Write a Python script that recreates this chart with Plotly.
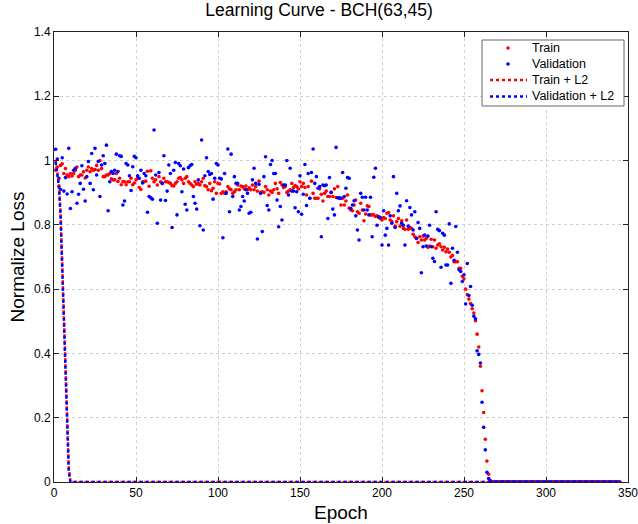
import plotly.graph_objects as go

# ---------------- data ----------------
train_loss = [
    # epochs 1-58
    0.97, 0.98, 0.92, 0.985, 0.99, 0.96, 0.975, 0.955, 0.95, 0.96,
    0.952, 0.96, 0.97, 0.98, 0.95, 0.955, 0.955, 0.965, 0.946, 0.97,
    0.98, 0.965, 0.975, 0.97, 0.972, 0.985, 0.97, 1.0, 0.975, 0.95,
    0.95, 0.955, 0.955, 0.96, 0.943, 0.94, 0.94, 0.96, 0.935, 0.945,
    0.925, 0.934, 0.934, 0.925, 0.934, 0.934, 0.945, 0.925, 0.93, 0.94,
    0.945, 0.916, 0.91, 0.934, 0.934, 0.936, 0.967, 0.92,
    # epochs 59-119
    0.968, 0.945, 0.934, 0.94, 0.924, 0.95, 0.934, 0.929, 0.945, 0.934,
    0.934, 0.932, 0.929, 0.922, 0.921, 0.929, 0.934, 0.945, 0.947, 0.94,
    0.929, 0.945, 0.95, 0.934, 0.929, 0.924, 0.919, 0.934, 0.926, 0.929,
    0.924, 0.934, 0.945, 0.922, 0.919, 0.909, 0.929, 0.906, 0.914, 0.934,
    0.898, 0.929, 0.927, 0.898, 0.903, 0.898, 0.903, 0.919, 0.912, 0.909,
    0.898, 0.903, 0.909, 0.924, 0.909, 0.921, 0.919, 0.912, 0.921, 0.909,
    0.915,
    # epochs 120-180
    0.909, 0.924, 0.909, 0.919, 0.905, 0.936, 0.901, 0.903, 0.901, 0.919,
    0.909, 0.893, 0.905, 0.901, 0.909, 0.929, 0.912, 0.898, 0.932, 0.924,
    0.916, 0.919, 0.901, 0.905, 0.909, 0.929, 0.916, 0.922, 0.919, 0.912,
    0.934, 0.919, 0.929, 0.916, 0.893, 0.919, 0.883, 0.936, 0.898, 0.883,
    0.883, 0.883, 0.912, 0.895, 0.874, 0.898, 0.905, 0.888, 0.888, 0.901,
    0.888, 0.912, 0.885, 0.919, 0.885, 0.862, 0.883, 0.862, 0.874, 0.893,
    0.852,
    # epochs 181-239
    0.846, 0.844, 0.862, 0.877, 0.841, 0.836, 0.867, 0.846, 0.813, 0.834,
    0.859, 0.857, 0.831, 0.831, 0.831, 0.826, 0.828, 0.823, 0.820, 0.815,
    0.823, 0.820, 0.836, 0.838, 0.815, 0.810, 0.828, 0.796, 0.810, 0.820,
    0.796, 0.813, 0.789, 0.786, 0.815, 0.786, 0.792, 0.789, 0.771, 0.763,
    0.758, 0.745, 0.763, 0.753, 0.765, 0.753, 0.758, 0.730, 0.734, 0.755,
    0.732, 0.753, 0.727, 0.737, 0.741, 0.732, 0.722, 0.730, 0.716,
    # epochs 240-266
    0.725, 0.715, 0.700, 0.705, 0.685, 0.685, 0.685, 0.665, 0.665, 0.640,
    0.632, 0.600, 0.583, 0.569, 0.555, 0.539, 0.526, 0.502, 0.460, 0.420,
    0.360, 0.284, 0.216, 0.133, 0.065, 0.024, 0.005,
]

val_loss = [
    # epochs 1-58
    1.035, 1.005, 0.945, 0.91, 1.009, 0.905, 0.947, 0.896, 1.038, 0.851,
    0.903, 0.97, 0.976, 0.867, 0.895, 0.929, 0.984, 0.911, 0.874, 0.95,
    0.997, 0.929, 1.022, 0.909, 1.038, 0.955, 0.997, 0.888, 0.986, 1.015,
    0.991, 1.048, 0.844, 0.934, 0.966, 0.96, 0.97, 1.02, 0.966, 1.015,
    1.013, 0.862, 0.874, 0.991, 0.986, 0.953, 0.907, 0.981, 1.013, 1.009,
    0.953, 0.945, 0.97, 0.93, 0.96, 0.953, 0.839, 0.888,
    # epochs 59-119
    0.884, 0.88, 1.095, 0.955, 0.805, 0.963, 0.877, 0.929, 1.015, 0.876,
    0.905, 0.986, 0.96, 0.792, 0.97, 0.994, 0.831, 0.991, 0.984, 0.903,
    0.974, 0.864, 0.846, 0.978, 0.984, 0.988, 0.888, 0.867, 0.849, 0.94,
    0.797, 1.064, 0.784, 0.953, 1.009, 0.966, 0.957, 0.96, 0.88, 0.945,
    0.991, 0.986, 0.945, 0.943, 0.76, 0.96, 0.898, 1.036, 0.841, 1.02,
    0.888, 0.95, 0.929, 0.929, 0.846, 0.857, 0.888, 0.874, 0.909, 0.898,
    0.836,
    # epochs 120-179
    0.839, 0.94, 0.976, 0.929, 0.756, 0.926, 0.898, 0.779, 0.95, 1.012,
    0.86, 0.846, 0.988, 1.0, 0.96, 0.96, 0.877, 0.794, 0.857, 0.815,
    0.924, 0.924, 1.0, 0.893, 0.976, 0.905, 0.905, 0.853, 0.903, 0.841,
    0.953, 0.833, 0.895, 0.988, 0.86, 0.96, 0.883, 0.963, 1.036, 0.929,
    0.95, 0.914, 0.919, 0.763, 0.924, 0.922, 0.924, 0.82, 0.947, 0.901,
    0.849, 0.831, 1.041, 0.884, 0.883, 0.883, 0.963, 0.888, 0.914, 0.947,
    # epochs 180-239
    0.945, 0.851, 0.862, 0.875, 0.828, 0.784, 0.753, 0.898, 0.886, 0.846,
    0.886, 0.846, 0.831, 0.886, 0.763, 0.948, 0.976, 0.799, 0.825, 0.823,
    0.737, 0.844, 0.768, 0.789, 0.737, 0.828, 0.805, 0.95, 0.792, 0.898,
    0.844, 0.859, 0.805, 0.799, 0.737, 0.875, 0.796, 0.854, 0.831, 0.784,
    0.841, 0.758, 0.807, 0.789, 0.651, 0.732, 0.768, 0.734, 0.765, 0.799,
    0.732, 0.696, 0.686, 0.841, 0.786, 0.782, 0.668, 0.774, 0.768, 0.675,
    # epochs 240-266
    0.675, 0.803, 0.618, 0.727, 0.69, 0.795, 0.715, 0.66, 0.655, 0.624,
    0.645, 0.554, 0.68, 0.58, 0.608, 0.55, 0.516, 0.508, 0.408, 0.397,
    0.37, 0.248, 0.17, 0.10, 0.03, 0.011, 0.003,
]

# after epoch 266 both curves sit at zero until epoch 345
zero_tail = [
    0, 0, 0, 0, 0, 0, 0, 0, 0, 0, 0, 0, 0, 0, 0, 0, 0, 0, 0, 0,
    0, 0, 0, 0, 0, 0, 0, 0, 0, 0, 0, 0, 0, 0, 0, 0, 0, 0, 0, 0,
    0, 0, 0, 0, 0, 0, 0, 0, 0, 0, 0, 0, 0, 0, 0, 0, 0, 0, 0, 0,
    0, 0, 0, 0, 0, 0, 0, 0, 0, 0, 0, 0, 0, 0, 0, 0, 0, 0, 0,
]

# L2-regularised runs: fall from ~1 to 0 within the first ten epochs
train_l2_head = [1.0, 0.965, 0.925, 0.835, 0.675, 0.48, 0.335, 0.175, 0.045, 0.0]
val_l2_head = [0.995, 0.96, 0.92, 0.83, 0.665, 0.47, 0.325, 0.165, 0.035, 0.0]
n_epochs = 345

series_names = ["Train", "Validation", "Train + L2", "Validation + L2"]

train_all = train_loss + zero_tail
val_all = val_loss + zero_tail
epochs = list(range(1, n_epochs + 1))
train_l2 = train_l2_head + [0.0] * (n_epochs - len(train_l2_head))
val_l2 = val_l2_head + [0.0] * (n_epochs - len(val_l2_head))

x_ticks = [0, 50, 100, 150, 200, 250, 300, 350]
y_ticks = [0, 0.2, 0.4, 0.6, 0.8, 1, 1.2, 1.4]

# ---------------- figure ----------------
FONT = "Liberation Sans, Arial, sans-serif"
RED = "#ff0000"
BLUE = "#0000ff"
W, H = 638, 524
ML, MR, MT, MB = 54, 10, 32, 42

fig = go.Figure()
fig.add_trace(go.Scatter(x=epochs, y=train_all, mode="markers", name=series_names[0],
                         marker=dict(color=RED, size=3.6, line=dict(width=0))))
fig.add_trace(go.Scatter(x=epochs, y=val_all, mode="markers", name=series_names[1],
                         marker=dict(color=BLUE, size=3.6, line=dict(width=0))))
fig.add_trace(go.Scatter(x=epochs, y=train_l2, mode="lines", name=series_names[2],
                         line=dict(color=RED, width=2.5, dash="dot")))
fig.add_trace(go.Scatter(x=epochs, y=val_l2, mode="lines", name=series_names[3],
                         line=dict(color=BLUE, width=2.5, dash="dot")))

axis_common = dict(
    automargin=False, ticklabeloverflow="allow",
    showline=True, linecolor="#222", linewidth=1, mirror="ticks",
    ticks="inside", ticklen=5, tickcolor="#222",
    showgrid=True, gridcolor="#cfcfcf", griddash="dot", gridwidth=1,
    zeroline=False, tickfont=dict(family=FONT, size=12, color="#000"),
)

# ---- MATLAB-style legend box (top right, inside the axes) ----
pw, ph = W - ML - MR, H - MT - MB
def px_x(px):
    return (px - ML) / pw
def px_y(py):
    return (H - MB - py) / ph

shapes = [dict(type="rect", xref="paper", yref="paper",
               x0=px_x(482), x1=px_x(624), y0=px_y(106), y1=px_y(40),
               fillcolor="white", line=dict(color="#666", width=1), layer="above")]
annotations = []
row_y = [48, 64, 80, 96.5]
styles = [("dot", RED), ("dot", BLUE), ("line", RED), ("line", BLUE)]
for name, ry, (kind, col) in zip(series_names, row_y, styles):
    if kind == "dot":
        shapes.append(dict(type="circle", xref="paper", yref="paper",
                           xsizemode="pixel", ysizemode="pixel",
                           xanchor=px_x(508), yanchor=px_y(ry),
                           x0=-1.8, x1=1.8, y0=-1.8, y1=1.8,
                           fillcolor=col, line=dict(width=0), layer="above"))
    else:
        shapes.append(dict(type="line", xref="paper", yref="paper",
                           x0=px_x(490), x1=px_x(527), y0=px_y(ry), y1=px_y(ry),
                           line=dict(color=col, width=2.5, dash="dot"), layer="above"))
    annotations.append(dict(text=name, xref="paper", yref="paper",
                            x=px_x(530), y=px_y(ry), xanchor="left", yanchor="middle",
                            showarrow=False, font=dict(family=FONT, size=12.5, color="#000")))

fig.update_layout(
    width=W, height=H,
    margin=dict(l=ML, r=MR, t=MT, b=MB),
    paper_bgcolor="white", plot_bgcolor="white",
    font=dict(family=FONT, color="#000"),
    title=dict(text="Learning Curve - BCH(63,45)", x=0.5, xanchor="center",
               y=0.992, yanchor="top", font=dict(family=FONT, size=17.5)),
    xaxis=dict(range=[0, 350], tickvals=x_ticks,
               title=dict(text="Epoch", font=dict(family=FONT, size=19), standoff=6),
               **axis_common),
    yaxis=dict(range=[0, 1.4], tickvals=y_ticks,
               title=dict(text="Normalize Loss", font=dict(family=FONT, size=19), standoff=4),
               **axis_common),
    showlegend=False,
    shapes=shapes,
    annotations=annotations,
)

fig.write_html("out.html")
